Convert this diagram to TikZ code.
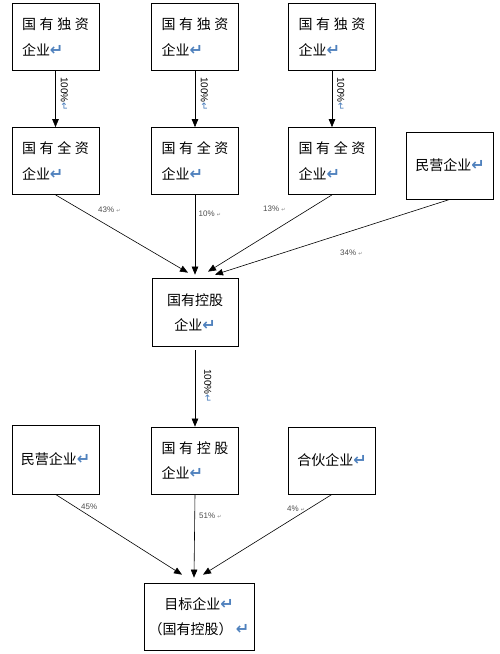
\documentclass[tikz,border=0pt]{standalone}
\usepackage{fontspec}
\setmainfont{Liberation Sans}
\newfontfamily\cjk{Noto Sans CJK SC}
\newfontfamily\dv{DejaVu Sans}
\usetikzlibrary{arrows.meta}
\definecolor{retour}{RGB}{79,129,189}
\newcommand\ret{{\dv\bfseries\fontsize{16}{16}\selectfont\color{retour}↵}}
\newcommand\vret{{\dv\fontsize{10}{10}\selectfont\color{retour}↵}}
\newcommand\petitret{{\dv\fontsize{5}{5}\selectfont\color{gray}↵}}
\newcommand\espace[4]{\makebox[67pt][l]{#1\hfill#2\hfill#3\hfill#4}}

\begin{document}
\begin{tikzpicture}[x=1pt, y=-1pt]
  %tikz%
  % Actionnariat, entreprise cible
  %tikz%
    \tikzset{boite/.style={draw, line width=0.7pt, minimum width=87pt, minimum height=67pt,
               font=\cjk\fontsize{14}{26}\selectfont},
             gauche/.style={boite, align=left, text width=67pt, inner xsep=10pt},
             centre/.style={boite, align=center},
             fleche/.style={-{Triangle[length=8pt,width=6.5pt]}, line width=0.6pt},
             taux/.style={font=\fontsize{8}{9}\selectfont, text=black!70, inner sep=0pt, anchor=west},
             vtaux/.style={font=\fontsize{10}{11}\selectfont, rotate=-90, inner sep=0pt, anchor=south west}}

    \useasboundingbox (0,0) rectangle (500,654);

    % premier rang
    \node[gauche] (duzi1) at (55.5,36.5) {\espace{国}{有}{独}{资}\\企业\ret};
    \node[gauche] (duzi2) at (195,36.5) {\espace{国}{有}{独}{资}\\企业\ret};
    \node[gauche] (duzi3) at (332,36.5) {\espace{国}{有}{独}{资}\\企业\ret};

    % second rang
    \node[gauche] (quanzi1) at (55.5,161) {\espace{国}{有}{全}{资}\\企业\ret};
    \node[gauche] (quanzi2) at (195,161) {\espace{国}{有}{全}{资}\\企业\ret};
    \node[gauche] (quanzi3) at (332,161) {\espace{国}{有}{全}{资}\\企业\ret};
    \node[centre] (minying1) at (450,165.5) {民营企业\ret};

    \foreach \i in {1,2,3}{
      \draw[fleche] (duzi\i) -- (quanzi\i);
    }
    \node[vtaux] (cent1) at (60.5,77) {100\%\vret};
    \node[vtaux] (cent2) at (200.5,77) {100\%\vret};
    \node[vtaux] (cent3) at (337,77) {100\%\vret};

    % holding
    \node[centre, minimum width=86pt, minimum height=68pt, font=\cjk\fontsize{14}{25}\selectfont]
      (konggu) at (195,312) {国有控股\\企业\ret};

    \draw[fleche] (quanzi1.south) -- ([xshift=-7pt,yshift=5pt]konggu.north);
    \draw[fleche] (quanzi2.south) -- ([yshift=3pt]konggu.north);
    \draw[fleche] (quanzi3.south) -- ([xshift=13pt,yshift=6pt]konggu.north);
    \draw[fleche] (minying1.south) -- ([xshift=20pt,yshift=3pt]konggu.north);
    \node[taux] (t43) at (98,210) {43\% \petitret};
    \node[taux] (t10) at (198.5,214) {10\% \petitret};
    \node[taux] (t13) at (263,209) {13\% \petitret};
    \node[taux] (t34) at (340,253) {34\% \petitret};

    % troisieme rang
    \node[centre, minimum height=69pt] (minying2) at (55.5,459.5) {民营企业\ret};
    \node[gauche, font=\cjk\fontsize{14}{25}\selectfont] (konggu2) at (195,460.5) {\espace{国}{有}{控}{股}\\企业\ret};
    \node[centre] (hehuo) at (332,460.5) {合伙企业\ret};

    \draw[fleche] ([yshift=-4pt]konggu.south) -- (konggu2.north);
    \node[vtaux] (cent4) at (204,369) {100\%\vret};

    % cible
    \node[centre, minimum width=110pt, font=\cjk\fontsize{14}{25}\selectfont]
      (mubiao) at (199,616.5) {目标企业\ret\\（国有控股） \ret};

    \draw[fleche] (minying2.south) -- ([xshift=-17pt,yshift=8pt]mubiao.north);
    \draw[fleche] (konggu2.south) -- ([xshift=-5pt,yshift=5pt]mubiao.north);
    \draw[fleche] (hehuo.south) -- ([xshift=4pt,yshift=8pt]mubiao.north);
    \node[taux] (t45) at (81,507) {45\%};
    \node[taux] (t51) at (199,516) {51\% \petitret};
    \node[taux] (t4) at (287,509) {4\% \petitret};

  \end{tikzpicture}
\end{document}
